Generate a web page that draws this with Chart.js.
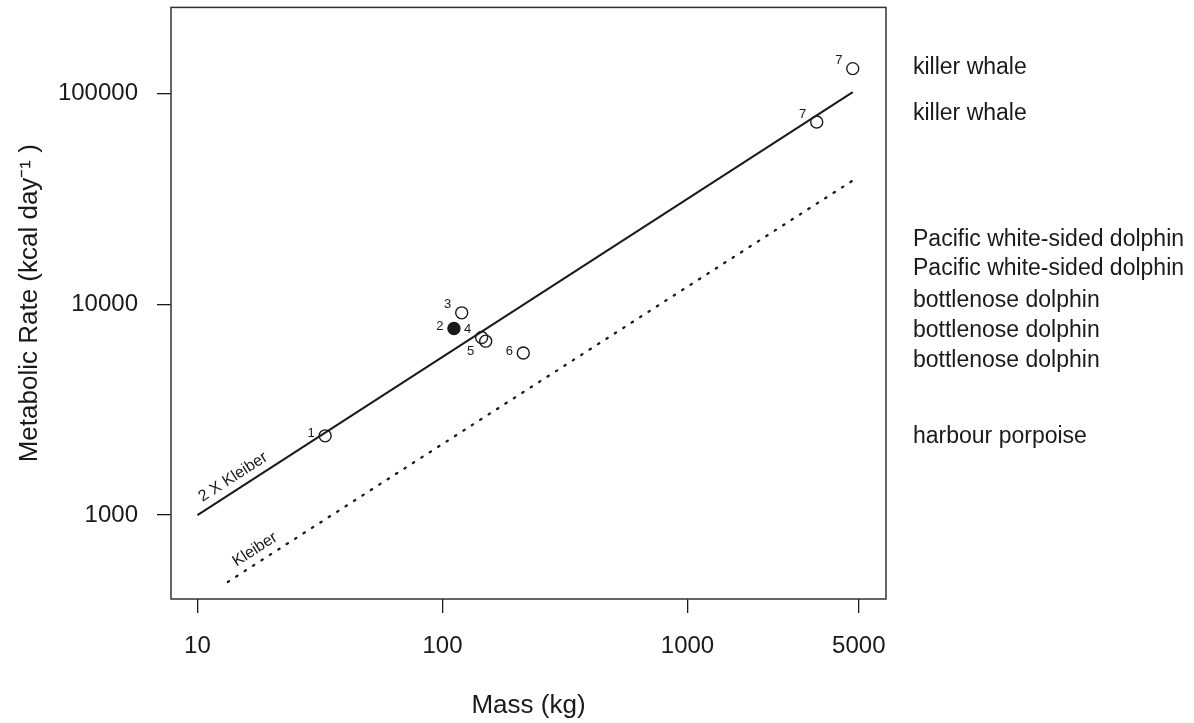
<!DOCTYPE html>
<html>
<head>
<meta charset="utf-8">
<script src="https://cdn.jsdelivr.net/npm/chart.js@4.4.1/dist/chart.umd.min.js"></script>
<style>
  html, body { margin: 0; padding: 0; background: #fff; }
  canvas { display: block; }
</style>
</head>
<body>
<canvas id="rateChart" width="1194" height="723"></canvas>
<script>
// measured animals (mass in kg, field metabolic rate in kcal/day)
const animalIds = ['1', '2', '3', '4', '5', '6', '7', '7'];
const massKg = [33.2, 111.4, 119.8, 144.5, 150.1, 213.7, 3368, 4724];
const rateKcal = [2376, 7670, 9100, 6950, 6680, 5870, 73100, 131000];
const filled = [false, true, false, false, false, false, false, false];
const idSide = ['left', 'left', 'upleft', 'upleft', 'downleft', 'left', 'upleft', 'upleft'];

// reference lines, end points only (straight on log-log axes)
const kleiber2Mass = [10, 4724];
const kleiber2Rate = [1000, 101300];
const kleiberMass = [13.3, 4905];
const kleiberRate = [482, 39700];
const lineNames = ['2 X Kleiber', 'Kleiber'];
const lineNameMass = [14.9, 18.3];

// species names listed to the right of the plot
const speciesNames = [
  'killer whale', 'killer whale',
  'Pacific white-sided dolphin', 'Pacific white-sided dolphin',
  'bottlenose dolphin', 'bottlenose dolphin', 'bottlenose dolphin',
  'harbour porpoise'
];
const speciesRates = [132800, 79800, 20260, 14700, 10410, 7505, 5411, 2343];

const massTicks = [10, 100, 1000, 5000];
const rateTicks = [1000, 10000, 100000];

const FONT = '"Liberation Sans", Arial, Helvetica, sans-serif';
const INK = '#1a1a1a';

const sideOffset = { left: [-14, -2], upleft: [-14, -8], downleft: [-15, 10] };

function toPoints(xs, ys) {
  return xs.map((v, i) => ({ x: v, y: ys[i] }));
}

// numbers next to points, names along lines, species list, frame
const plotDecor = {
  id: 'plotDecor',
  afterDatasetsDraw(chart) {
    const { ctx, chartArea: a, scales: { x, y } } = chart;
    ctx.save();
    ctx.fillStyle = INK;

    ctx.font = '13px ' + FONT;
    ctx.textAlign = 'center';
    ctx.textBaseline = 'middle';
    animalIds.forEach((id, i) => {
      const [dx, dy] = sideOffset[idSide[i]];
      ctx.fillText(id, x.getPixelForValue(massKg[i]) + dx, y.getPixelForValue(rateKcal[i]) + dy);
    });

    ctx.font = '16px ' + FONT;
    [[kleiber2Mass, kleiber2Rate], [kleiberMass, kleiberRate]].forEach(([ms, rs], k) => {
      const x1 = x.getPixelForValue(ms[0]), y1 = y.getPixelForValue(rs[0]);
      const x2 = x.getPixelForValue(ms[1]), y2 = y.getPixelForValue(rs[1]);
      const ang = Math.atan2(y2 - y1, x2 - x1);
      const px = x.getPixelForValue(lineNameMass[k]);
      const py = y1 + (px - x1) * (y2 - y1) / (x2 - x1);
      ctx.save();
      ctx.translate(px + Math.sin(ang) * 12.5, py - Math.cos(ang) * 12.5);
      ctx.rotate(ang);
      ctx.fillText(lineNames[k], 0, 0);
      ctx.restore();
    });

    ctx.font = '23px ' + FONT;
    ctx.textAlign = 'left';
    speciesNames.forEach((name, i) => {
      ctx.fillText(name, a.right + 27, y.getPixelForValue(speciesRates[i]));
    });

    ctx.strokeStyle = '#333';
    ctx.lineWidth = 1.5;
    ctx.strokeRect(a.left, a.top, a.right - a.left, a.bottom - a.top);
    ctx.restore();
  }
};

new Chart(document.getElementById('rateChart'), {
  type: 'scatter',
  data: {
    datasets: [
      {
        label: 'animals',
        data: toPoints(massKg, rateKcal),
        pointRadius: 6,
        pointBorderWidth: 1.4,
        pointBorderColor: INK,
        pointBackgroundColor: filled.map(f => f ? INK : 'rgba(0,0,0,0)'),
        showLine: false
      },
      {
        label: '2 X Kleiber',
        data: toPoints(kleiber2Mass, kleiber2Rate),
        showLine: true,
        borderColor: INK,
        borderWidth: 2,
        pointRadius: 0
      },
      {
        label: 'Kleiber',
        data: toPoints(kleiberMass, kleiberRate),
        showLine: true,
        borderColor: INK,
        borderWidth: 2.3,
        borderDash: [1.5, 8.5],
        borderCapStyle: 'round',
        pointRadius: 0
      }
    ]
  },
  options: {
    responsive: false,
    animation: false,
    events: [],
    layout: { padding: { top: 7, right: 308, bottom: 0, left: 0 } },
    plugins: {
      legend: { display: false },
      tooltip: { enabled: false }
    },
    scales: {
      x: {
        type: 'logarithmic',
        min: 7.8,
        max: 6457,
        afterBuildTicks: s => { s.ticks = massTicks.map(v => ({ value: v })); },
        afterFit: s => { s.height = 124; s.paddingLeft = 0; s.paddingRight = 0; },
        border: { display: false },
        grid: { drawOnChartArea: false, drawTicks: true, tickLength: 14, color: INK, lineWidth: 1.3 },
        ticks: {
          autoSkip: false,
          maxRotation: 0,
          padding: 19,
          color: INK,
          font: { family: FONT, size: 24 },
          callback: v => String(v)
        },
        title: {
          display: true,
          text: 'Mass (kg)',
          color: INK,
          font: { family: FONT, size: 26 },
          padding: { top: 0, bottom: 1.5 }
        }
      },
      y: {
        type: 'logarithmic',
        min: 400,
        max: 255600,
        afterBuildTicks: s => { s.ticks = rateTicks.map(v => ({ value: v })); },
        afterFit: s => { s.width = 171; s.paddingTop = 0; s.paddingBottom = 0; },
        border: { display: false },
        grid: { drawOnChartArea: false, drawTicks: true, tickLength: 14, color: INK, lineWidth: 1.3 },
        ticks: {
          autoSkip: false,
          padding: 19,
          color: INK,
          font: { family: FONT, size: 24 },
          callback: v => String(v)
        },
        title: {
          display: true,
          text: 'Metabolic Rate (kcal day\u207B\u00B9 )',
          color: INK,
          font: { family: FONT, size: 26 },
          padding: { top: 14, bottom: 0 }
        }
      }
    }
  },
  plugins: [plotDecor]
});
</script>
</body>
</html>
